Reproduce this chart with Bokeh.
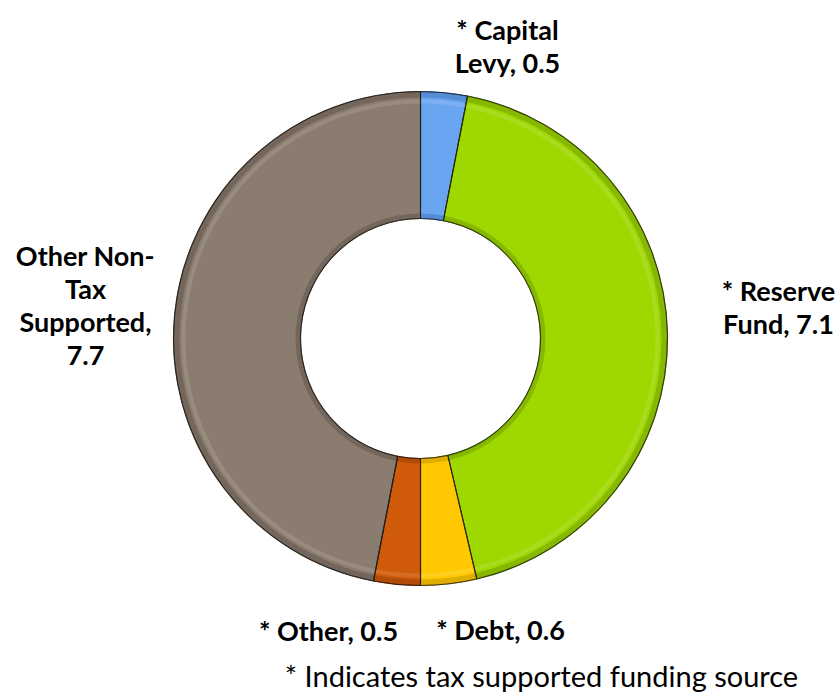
import math
from bokeh.plotting import figure
from bokeh.models import Range1d, ColumnDataSource
from bokeh.core.properties import value
from bokeh.embed import file_html
from bokeh.resources import INLINE

# ---- data ----
categories = ["* Capital Levy", "* Reserve Fund", "* Debt", "* Other", "Other Non-Tax Supported"]
values = [0.5, 7.1, 0.6, 0.5, 7.7]
colors = ["#6AA5F2", "#9FD700", "#FFC800", "#CF5A0A", "#8A7C6E"]
edge_colors = ["#2F5E9E", "#5C7D00", "#A07A00", "#7A3000", "#4A4036"]
label_texts = ["* Capital\nLevy, 0.5", "* Reserve\nFund, 7.1", "* Debt, 0.6", "* Other, 0.5",
               "Other Non-\nTax\nSupported,\n7.7"]
footnote = "* Indicates tax supported funding source"

W, H = 839, 694
def sx(x):  # screen x -> data x
    return x
def sy(y):  # screen y -> data y
    return H - y

total = sum(values)
starts, ends = [], []
cum = 0.0
for v in values:
    starts.append(math.pi / 2 - cum / total * 2 * math.pi)
    cum += v
    ends.append(math.pi / 2 - cum / total * 2 * math.pi)

cx, cy = sx(420), sy(338)
r_in, r_out = 120, 247

src = ColumnDataSource(dict(cat=categories, val=values, color=colors, edge=edge_colors,
                            start=starts, end=ends))

p = figure(width=W, height=H, output_backend="svg", toolbar_location=None,
           x_range=Range1d(0, W), y_range=Range1d(0, H), min_border=0,
           outline_line_color=None)
p.axis.visible = False
p.grid.visible = False
p.background_fill_color = "white"
p.border_fill_color = "white"

# base slices
p.annular_wedge(x=cx, y=cy, inner_radius=r_in, outer_radius=r_out,
                start_angle="start", end_angle="end", direction="clock",
                fill_color="color", line_color="edge", line_width=1.2, source=src)
# subtle bevel: darker outer rim and inner rim, light highlight band
p.annular_wedge(x=cx, y=cy, inner_radius=r_out - 6, outer_radius=r_out,
                start_angle="start", end_angle="end", direction="clock",
                fill_color="edge", fill_alpha=0.35, line_color=None, source=src)
p.annular_wedge(x=cx, y=cy, inner_radius=r_out - 12, outer_radius=r_out - 8,
                start_angle="start", end_angle="end", direction="clock",
                fill_color="white", fill_alpha=0.12, line_color=None, source=src)
p.annular_wedge(x=cx, y=cy, inner_radius=r_in, outer_radius=r_in + 5,
                start_angle="start", end_angle="end", direction="clock",
                fill_color="edge", fill_alpha=0.35, line_color=None, source=src)
# separators
p.annular_wedge(x=cx, y=cy, inner_radius=r_in, outer_radius=r_out,
                start_angle="start", end_angle="end", direction="clock",
                fill_color=None, line_color="#1a1a1a", line_width=1.0, line_alpha=0.7, source=src)

# labels
lab_x = [sx(507), sx(778), sx(500), sx(328), sx(85)]
lab_y = [sy(45), sy(306), sy(629), sy(630), sy(304)]
lsrc = ColumnDataSource(dict(x=lab_x, y=lab_y, t=label_texts))
p.text(x="x", y="y", text="t", source=lsrc, text_font=value("Lato"),
       text_font_style="bold", text_font_size="27px", text_align="center",
       text_baseline="middle", text_line_height=1.0, text_color="#000000")

p.text(x=[sx(541)], y=[sy(675)], text=[footnote], text_font=value("Lato"),
       text_font_size="29px", text_align="center", text_baseline="middle",
       text_color="#000000")

open("out.html", "w").write(file_html(p, INLINE))
